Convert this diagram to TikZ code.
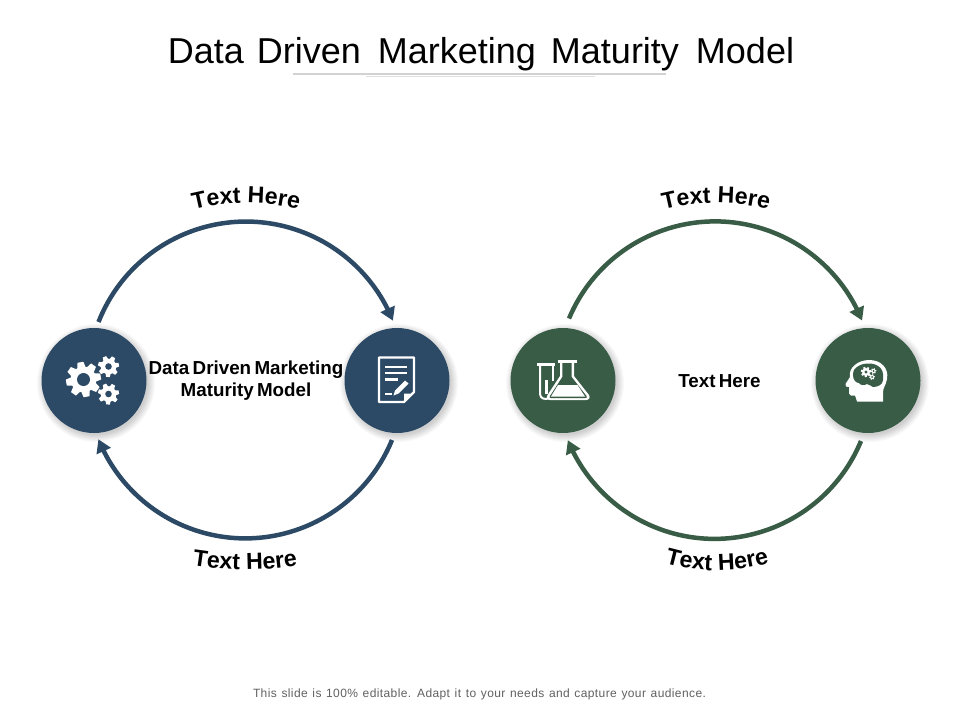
\documentclass[tikz,border=0pt]{standalone}
\usepackage{fontspec}
\setmainfont{Liberation Sans}
\usetikzlibrary{arrows.meta,bending,decorations.text}
\definecolor{navy}{HTML}{2C4A66}
\definecolor{forest}{HTML}{385C45}
\definecolor{rulegray}{HTML}{D2D2D2}
\newfontfamily\footfam[LetterSpace=3.3,WordSpace=1.25]{Liberation Sans}
\newcommand\curvetxt{\fontsize{23.2}{24}\selectfont\bfseries}
\newcommand\tgap[1]{\hspace{#1pt}}
\tikzset{
  disc/.style={circle,minimum size=#1,inner sep=0pt,draw=none},
  arcline/.style={line width=4.5pt,-{Triangle[length=13pt,width=15pt,flex]}},
  curved/.style={decorate,decoration={text along path,text align=center,
     text={|\curvetxt|Text Here}}},
  label/.style={font=\fontsize{18.8}{22}\selectfont\bfseries,align=center,inner sep=0pt},
}
% gear: x,y,radius,teeth,hole radius,colour
\newcommand\gearicon[6]{%
  \fill[white] (#1,#2) circle[radius=#3*.74];
  \foreach \k in {1,...,#4}{
    \pgfmathsetmacro\ang{\k*360/#4+10}
    \fill[white,shift={(#1,#2)},rotate=\ang]
      (#3*.6,-#3*.26) -- (#3,-#3*.17) -- (#3,#3*.17) -- (#3*.6,#3*.26) -- cycle;
  }
  \fill[#6] (#1,#2) circle[radius=#5];
}
\begin{document}
\begin{tikzpicture}[x=1pt,y=-1pt]
\useasboundingbox (0,0) rectangle (960,720);
\fill[white] (0,0) rectangle (960,720);

% title
\node[inner sep=0pt,anchor=base,font=\fontsize{36}{40}\selectfont] (title) at (481,63) {Data\tgap{13}Driven\tgap{17}Marketing\tgap{15}Maturity\tgap{17}Model};
\coordinate (ua) at (293,74); \coordinate (ub) at (666,74);
\coordinate (uc) at (366,76.5); \coordinate (ud) at (595,76.5);
\draw[rulegray,line width=1.2pt] (ua) -- (ub);
\draw[rulegray!70,line width=.8pt] (uc) -- (ud);

% soft shadows
\foreach \x in {94,397,563,868}{\foreach \q in {52,53,...,59}{\fill[black,opacity=.022] (\x+2,380+3) circle[radius=\q];}}
% discs
\node[disc=105pt,fill=navy] (d1) at (94,380.5) {};
\node[disc=105pt,fill=navy] (d2) at (397,380.5) {};
\node[disc=105pt,fill=forest] (d3) at (563,380.5) {};
\node[disc=105pt,fill=forest] (d4) at (868,380.5) {};

% arcs
\coordinate (a1) at (98.5,322); \coordinate (a2) at (392,440); \coordinate (a3) at (569,318.5); \coordinate (a4) at (861,441);
\draw[navy,arcline] (a1) arc[start angle=201.5,end angle=338,radius=158.5];
\draw[navy,arcline] (a2) arc[start angle=22.3,end angle=158,radius=158.5];
\draw[forest,arcline] (a3) arc[start angle=202.8,end angle=338,radius=158.5];
\draw[forest,arcline] (a4) arc[start angle=22.5,end angle=157.8,radius=158.5];

% curved labels
\path[curved] (150.7,226) arc[start angle=243,end angle=297,radius=210];
\path[curved] (620.7,226) arc[start angle=243,end angle=297,radius=210];
\path[curved] (125.1,546.9) arc[start angle=111.3,end angle=68.7,radius=330];
\path[curved] (586.2,516.3) arc[start angle=135,end angle=45,radius=185];

% centre labels
\node[label] (lab1) at (246,381) {Data\tgap{3.3}Driven\tgap{3.3}Marketing\\Maturity\tgap{3.3}Model};
\node[label] (lab2) at (719.5,381) {Text\tgap{3.3}Here};

% footer
\node[inner sep=0pt,text=black!62,font=\footfam\fontsize{12}{14}\selectfont] (foot) at (479.5,694) {This slide is 100\% editable. Adapt it to your needs and capture your audience.};

% icon: gears
\gearicon{83.5}{379.5}{17.5}{8}{6.5}{navy}
\gearicon{108.5}{366.5}{10.5}{7}{3.3}{navy}
\gearicon{108.5}{394}{10.5}{7}{3.3}{navy}

% icon: document
\draw[white,line width=2.2pt,line join=round] (379,357.5) -- (414,357.5) -- (414,392) -- (404,402) -- (379,402) -- cycle;
\draw[white,line width=2.4pt] (385,367) -- (407,367) (385,373) -- (407,373) (385,379.5) -- (398,379.5);
\draw[white,line width=1.6pt] (385,394) -- (392,394);
\fill[white] (405,380.5) -- (408.5,383.5) -- (398.5,393.5) -- (393.5,395.5) -- (395,390.5) -- cycle;
\fill[white] (404,393.5) -- (414,393.5) -- (404,402) -- cycle;

% icon: tube and flask
\draw[white,line width=3pt] (537,364.5) -- (555,364.5);
\draw[white,line width=2pt,line join=round] (540,365) -- (540,394) .. controls (540,399) and (546,400) .. (549,398);
\draw[white,line width=2pt] (552.5,365) -- (552.5,381);
\fill[white] (545,380) rectangle (548,394);
\fill[white] (560,361) -- (574,361) -- (574,376) -- (589,395) .. controls (590.5,398) and (589,400) .. (586,400) -- (550,400) .. controls (547,400) and (546,398) .. (547.5,395) -- (560,376) -- cycle;
\fill[forest] (562.3,363) -- (571.7,363) -- (571.7,377) -- (586.5,396) .. controls (587.5,398) and (586,398) .. (585,398) -- (551,398) .. controls (550,398) and (549,398) .. (550,396) -- (562.3,377) -- cycle;
\fill[white] (558,385) -- (577.5,385) -- (585,396.5) -- (551,396.5) -- cycle;
\draw[white,line width=3pt] (558,361) -- (577,361);

% icon: head
\fill[white] (883,401.5) -- (857,401.5) -- (855,395.5) -- (851,395.5) .. controls (849,395.5) and (849,393) .. (849,391)
  -- (849,387) -- (846,386.5) -- (845.5,384) -- (850,377) .. controls (848,368) and (858,360) .. (869,360)
  .. controls (881,360) and (889,368) .. (887,379) .. controls (886,385) and (883,388) .. (883,392) -- cycle;
\fill[forest] (853,375) .. controls (853,370) and (855,368) .. (857,367) .. controls (862,363) and (872,362) .. (878,366)
  .. controls (882,368) and (884,373) .. (883,380) .. controls (883,385) and (877,387) .. (873,387)
  .. controls (870,386) and (869,384) .. (867,384) .. controls (864,386) and (860,385) .. (859,383) .. controls (856,383) and (853,380) .. (853,375) -- cycle;
\gearicon{866}{372}{5.2}{7}{1.7}{forest}
\gearicon{873.5}{371}{2.8}{6}{1}{forest}
\gearicon{872}{377}{2.8}{6}{1}{forest}
\end{tikzpicture}
\end{document}
